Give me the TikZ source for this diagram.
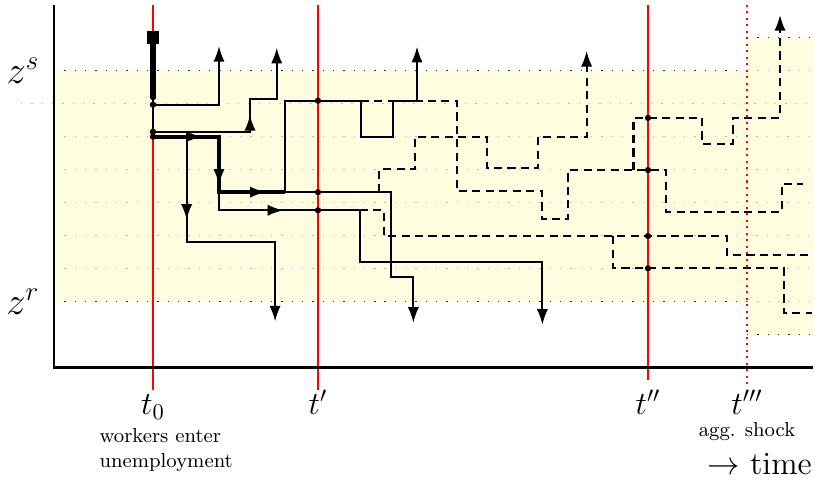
\documentclass[tikz,border=0pt]{standalone}
\usepackage{amsmath,amssymb}
\usepackage{tikz}
\usetikzlibrary{arrows.meta, positioning}
\tikzset{>={Latex[length=7pt,width=5pt]},
	zfill/.style = {fill=yellow!12},
	zgrid/.style = {gray!55, loosely dotted, line width=0.6pt},
	zbound/.style = {black!85, loosely dotted, line width=0.6pt},
	tline/.style = {red, line width=0.9pt},
	walk/.style = {line width=0.9pt},
	boldwalk/.style = {line width=1.8pt},
	exit/.style = {walk, ->},
	cfwalk/.style = {walk, dash pattern=on 3.6pt off 2.4pt},
	cfexit/.style = {cfwalk, ->},
	tlabel/.style = {anchor=base, font=\Large}
}
\NewDocumentCommand{\midtip}{m m}{%
	\draw[walk,->] #1 -- #2;
}

\begin{document}
\begin{tikzpicture}[x=0.5166cm, y=0.5166cm]
\useasboundingbox (-1.636,-5.524) rectangle (23.06,9.142);
% band of z
\fill[zfill] (0,0) rectangle (21,7);
\fill[zfill] (21,-1) rectangle (23,8);
\foreach \y in {1,...,5} \draw[zgrid] (0,\y) -- (23,\y);
\draw[zgrid] (-1,6) -- (23,6);
\foreach \y in {0,7} {
	\draw[zbound] (0,\y) -- (21,\y);
	\draw[zgrid] (21,\y) -- (23,\y);
}
\foreach \y in {-1,8} \draw[zbound] (21,\y) -- (23,\y);
% dates
\draw[tline] (3,9) -- (3,-2.67);
\draw[tline] (8,9) -- (8,-2.67);
\draw[tline] (18,9) -- (18,-2.38);
\draw[tline, dotted, line width=1.2pt] (21,9) -- (21,-2.53);
\draw[line width=1.2pt] (0,9) -- (0,-2) -- (23,-2);
% entry
\node[fill, minimum size=5.6pt, inner sep=0pt] (start) at (3,8) {};
\draw[line width=2.5pt] (start.center) -- (3,6.2);
\draw[line width=1.2pt] (3,6.2) -- (3,5);
% up to t'
\draw[exit] (3,5.95) -- (5,5.95) -- (5,7.75);
\draw[exit] (3,5.15) -- (5.94,5.15) -- (5.94,6.15) -- (6.75,6.15) -- (6.75,7.7);
\draw[boldwalk] (3,5) -- (5,5) -- (5,3.32) -- (7,3.32);
\draw[walk] (7,3.32) -- (7,6.09) -- (8,6.09);
\draw[walk] (7,3.32) -- (8,3.32);
\draw[exit] (4.02,5) -- (4.02,1.8) -- (6.7,1.8) -- (6.7,-0.6);
\draw[walk] (5,3.32) -- (5,2.77) -- (8,2.77);
\midtip{(3,5)}{(4.48,5)}
\midtip{(5.94,5.15)}{(5.94,5.66)}
\midtip{(5,5)}{(5,3.54)}
\midtip{(4.02,5)}{(4.02,2.48)}
\midtip{(5,3.32)}{(6.42,3.32)}
\midtip{(5,2.77)}{(6.95,2.77)}
% after t'
\draw[exit] (8,6.09) -- (9.29,6.09) -- (9.29,4.98) -- (10.28,4.98) -- (10.28,6.09) -- (11,6.09) -- (11,7.73);
\draw[cfwalk] (9.29,6.09) -- (12.2,6.09) -- (12.2,3.35) -- (14.78,3.35) -- (14.78,2.5) -- (15.58,2.5) -- (15.58,3.99) -- (18.55,3.99) -- (18.55,2.73) -- (22.05,2.73) -- (22.05,3.57) -- (22.69,3.57);
\draw[cfexit] (17.56,3.99) -- (17.56,5.57) -- (19.65,5.57) -- (19.65,4.77) -- (20.57,4.77) -- (20.57,5.57) -- (22,5.57) -- (22,8.69);
\draw[exit] (8,3.32) -- (10.2,3.32) -- (10.2,0.76) -- (10.89,0.76) -- (10.89,-0.64);
\draw[cfexit] (9.85,3.32) -- (9.85,4.01) -- (10.94,4.01) -- (10.94,5) -- (13.13,5) -- (13.13,4.04) -- (14.68,4.04) -- (14.68,5) -- (16.14,5) -- (16.14,7.6);
\draw[exit] (8,2.77) -- (9.27,2.77) -- (9.27,1.19) -- (14.8,1.19) -- (14.8,-0.7);
\draw[cfwalk] (9.27,2.77) -- (10,2.77) -- (10,1.99) -- (20.38,1.99) -- (20.38,1.42) -- (23,1.42);
\draw[cfwalk] (16.95,1.99) -- (16.95,1.01) -- (22.12,1.01) -- (22.12,-0.35) -- (22.96,-0.35);
% workers at the dates
\foreach \p in {(3,6.2),(3,5.97),(3,5.15),(3,5),(8,6.09),(8,3.32),(8,2.77),(18,5.57),(18,3.99),(18,1.99),(18,1.01)}
	\fill \p circle (1.4pt);
% labels
\node[left, font=\LARGE] (zs) at (-0.2,7) {$z^s$};
\node[left, font=\LARGE] (zr) at (-0.2,0) {$z^r$};
\node[tlabel] (t0) at (3,-3.42) {$t_0$};
\node[tlabel] (t1) at (8,-3.42) {$t'$};
\node[tlabel] (t2) at (18,-3.42) {$t''$};
\node[tlabel] (t3) at (21,-3.42) {$t'''$};
\node[anchor=north west, align=left, font=\small] (enter) at (1.14,-3.6) {workers enter\\unemployment};
\node[anchor=base, font=\small] (shock) at (21,-4.07) {agg. shock};
\node[anchor=base east, font=\Large] (time) at (23.2,-5.25) {$\rightarrow$ time};
\end{tikzpicture}
\end{document}
